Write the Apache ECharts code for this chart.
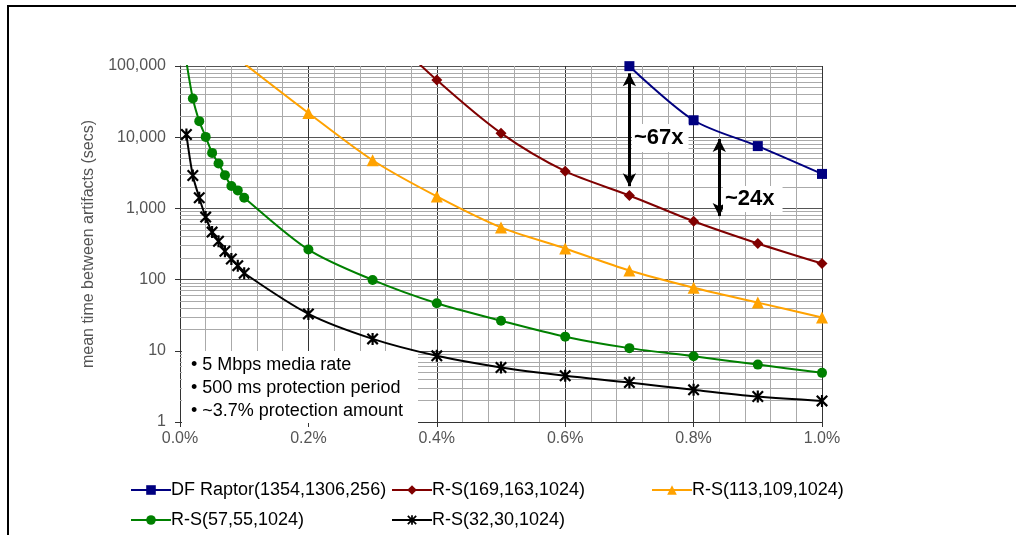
<!DOCTYPE html>
<html>
<head>
<meta charset="utf-8">
<script src="https://cdn.jsdelivr.net/npm/echarts@6/dist/echarts.min.js"></script>
<style>
  html, body { margin: 0; padding: 0; background: #fff; }
  #chart { width: 1016px; height: 535px; }
</style>
</head>
<body>
<div id="chart"></div>
<script>
const FONT = '"Liberation Sans", Arial, sans-serif';

// packet loss rate (%) for each code
const xRaptor = [0.7, 0.8, 0.9, 1.0];
const xRS169 = [0.3, 0.4, 0.5, 0.6, 0.7, 0.8, 0.9, 1.0];
const xRS113 = [0.1, 0.2, 0.3, 0.4, 0.5, 0.6, 0.7, 0.8, 0.9, 1.0];
const xDense = [0.01, 0.02, 0.03, 0.04, 0.05, 0.06, 0.07, 0.08, 0.09, 0.1,
                0.2, 0.3, 0.4, 0.5, 0.6, 0.7, 0.8, 0.9, 1.0];

// mean time between artifacts (secs)
const yRaptor = [99500, 17300, 7500, 3050];
const yRS169 = [450000, 63500, 11400, 3330, 1520, 660, 322, 168];
const yRS113 = [108000, 21900, 4750, 1475, 541, 274, 134, 77, 47.5, 29.3];
const yRS57 = [115000, 34900, 16800, 10100, 6020, 4270, 2930, 2060, 1790, 1413,
               264, 99, 46.5, 26.5, 15.8, 10.9, 8.4, 6.4, 4.9];
const yRS32 = [10900, 2900, 1413, 755, 465, 345, 250, 195, 157, 123,
               33, 14.7, 8.5, 5.83, 4.46, 3.59, 2.83, 2.28, 1.98];

const notes = ['• 5 Mbps media rate', '• 500 ms protection period', '• ~3.7% protection amount'];

// log minor gridlines 2..9 per decade
const minorGrid = [];
for (let d = 1; d < 100000; d *= 10) {
  for (let m = 2; m <= 9; m++) minorGrid.push(m * d);
}

const pts = (xs, ys) => xs.map((x, i) => [x, ys[i]]);
const starPath = 'path://M4.1 0L5.9 0L5.9 10L4.1 10Z M0 1.3L1.3 0L10 8.7L8.7 10Z M8.7 0L10 1.3L1.3 10L0 8.7Z';

function lineSeries(name, data, color, symbol, size) {
  return {
    name: name, type: 'line', data: data, z: 5,
    smooth: 0.3, clip: true,
    symbol: symbol, symbolSize: size, showAllSymbol: true,
    color: color,
    lineStyle: { color: color, width: 2 },
    itemStyle: { color: color, borderWidth: 0 },
    emphasis: { disabled: true }
  };
}

function legendAt(name, left, top) {
  return {
    data: [name], left: left, top: top,
    itemWidth: 40, itemHeight: 12, itemGap: 0,
    textStyle: { fontFamily: FONT, fontSize: 18, color: '#000', padding: [0, 0, 0, -5] }
  };
}

const chart = echarts.init(document.getElementById('chart'));
chart.setOption({
  animation: false,
  backgroundColor: '#fff',
  grid: { left: 180, right: 194, top: 66, bottom: 113, containLabel: false },
  legend: [
    legendAt('DF Raptor(1354,1306,256)', 125, 476),
    legendAt('R-S(169,163,1024)', 386, 476),
    legendAt('R-S(113,109,1024)', 646, 476),
    legendAt('R-S(57,55,1024)', 125, 506),
    legendAt('R-S(32,30,1024)', 386, 506)
  ],
  xAxis: {
    type: 'value', min: 0, max: 1, interval: 0.2,
    axisLine: { show: true, lineStyle: { color: '#333', width: 1 } },
    axisTick: { show: true, length: 5, lineStyle: { color: '#333' } },
    axisLabel: {
      margin: 9, color: '#555', fontFamily: FONT, fontSize: 16,
      formatter: v => v.toFixed(1) + '%'
    },
    splitLine: { show: true, lineStyle: { color: '#333', width: 1 } },
    minorTick: { show: false, splitNumber: 5 },
    minorSplitLine: { show: true, lineStyle: { color: '#aaa', width: 1 } }
  },
  yAxis: {
    type: 'log', logBase: 10, min: 1, max: 100000,
    name: 'mean time between artifacts (secs)',
    nameLocation: 'middle', nameGap: 83,
    nameTextStyle: { color: '#555', fontFamily: FONT, fontSize: 16 },
    axisLine: { show: true, lineStyle: { color: '#333', width: 1 } },
    axisTick: { show: true, length: 5, lineStyle: { color: '#333' } },
    axisLabel: {
      margin: 14, color: '#555', fontFamily: FONT, fontSize: 16,
      formatter: v => Math.round(v).toLocaleString('en-US')
    },
    splitLine: { show: true, lineStyle: { color: '#555', width: 1 } }
  },
  series: [
    {
      type: 'line', data: [], z: 1, silent: true,
      markLine: {
        z: 1, silent: true, symbol: 'none', animation: false,
        label: { show: false },
        lineStyle: { color: '#aaa', width: 1, type: 'solid' },
        emphasis: { disabled: true },
        data: minorGrid.map(v => ({ yAxis: v }))
      }
    },
    lineSeries('DF Raptor(1354,1306,256)', pts(xRaptor, yRaptor), '#000080', 'rect', 10),
    lineSeries('R-S(169,163,1024)', pts(xRS169, yRS169), '#800000', 'diamond', 11),
    lineSeries('R-S(113,109,1024)', pts(xRS113, yRS113), '#ffa200', 'triangle', 12),
    lineSeries('R-S(57,55,1024)', pts(xDense, yRS57), '#008000', 'circle', 10),
    lineSeries('R-S(32,30,1024)', pts(xDense, yRS32), '#000000', starPath, 12),
    {
      type: 'line', data: [], z: 7, silent: true,
      markLine: {
        z: 7, silent: true, symbol: ['arrow', 'arrow'], symbolSize: [10, 13], animation: false,
        label: { show: false },
        lineStyle: { color: '#000', width: 3, type: 'solid' },
        emphasis: { disabled: true },
        data: [
          [{ coord: [0.7, 79000] }, { coord: [0.7, 2050] }],
          [{ coord: [0.84, 9400] }, { coord: [0.84, 780] }]
        ]
      }
    }
  ],
  graphic: [
    {
      type: 'rect', z: 3, silent: true,
      shape: { x: 182, y: 351, width: 236, height: 72 },
      style: { fill: '#fff' }
    },
    {
      type: 'text', z: 4, x: 191, y: 354, silent: true,
      style: {
        text: notes.join('\n'), fill: '#000',
        font: '18px ' + FONT, lineHeight: 23
      }
    },
    {
      type: 'text', z: 8, x: 632, y: 124, silent: true,
      style: {
        text: '~67x', fill: '#000', font: 'bold 22px ' + FONT,
        backgroundColor: '#fff', padding: [3, 5, 3, 2]
      }
    },
    {
      type: 'text', z: 8, x: 723, y: 186, silent: true,
      style: {
        text: '~24x', fill: '#000', font: 'bold 22px ' + FONT,
        backgroundColor: '#fff', padding: [2, 8, 2, 2]
      }
    },
    {
      type: 'rect', z: 10, silent: true,
      shape: { x: 8, y: 6, width: 1100, height: 700 },
      style: { fill: 'none', stroke: '#000', lineWidth: 2 }
    }
  ]
});
</script>
</body>
</html>
